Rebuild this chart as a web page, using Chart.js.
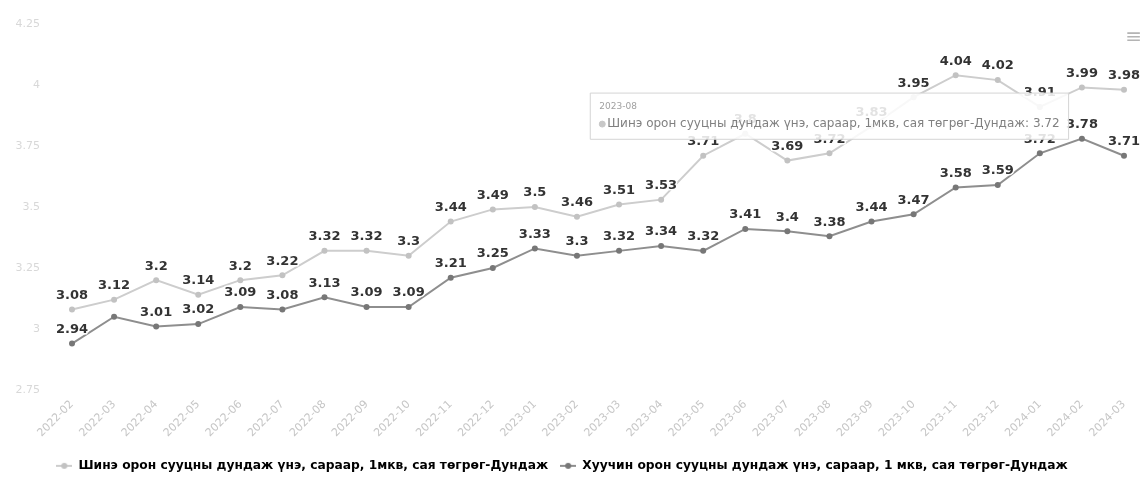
<!DOCTYPE html>
<html>
<head>
<meta charset="utf-8">
<title>Орон сууцны дундаж үнэ</title>
<script src="https://cdn.jsdelivr.net/npm/chart.js@4.4.1/dist/chart.umd.min.js"></script>
<style>
  html, body { margin: 0; padding: 0; background: #fff; }
  #wrap { position: relative; width: 1147px; height: 496px; }
  #menu { position: absolute; right: 5px; top: 24px; font: 20px "DejaVu Sans"; color: #b4b4b4; }
</style>
</head>
<body>
<div id="wrap">
  <canvas id="priceChart" width="1147" height="496"></canvas>
  <div id="menu">≡</div>
</div>
<script>
const months = [
  '2022-02', '2022-03', '2022-04', '2022-05', '2022-06', '2022-07', '2022-08',
  '2022-09', '2022-10', '2022-11', '2022-12', '2023-01', '2023-02', '2023-03',
  '2023-04', '2023-05', '2023-06', '2023-07', '2023-08', '2023-09', '2023-10',
  '2023-11', '2023-12', '2024-01', '2024-02', '2024-03'
];

// сая төгрөг / 1 мкв
const newFlats = [
  3.08, 3.12, 3.2, 3.14, 3.2, 3.22, 3.32, 3.32, 3.3, 3.44, 3.49, 3.5, 3.46,
  3.51, 3.53, 3.71, 3.8, 3.69, 3.72, 3.83, 3.95, 4.04, 4.02, 3.91, 3.99, 3.98
];
const oldFlats = [
  2.94, 3.05, 3.01, 3.02, 3.09, 3.08, 3.13, 3.09, 3.09, 3.21, 3.25, 3.33, 3.3,
  3.32, 3.34, 3.32, 3.41, 3.4, 3.38, 3.44, 3.47, 3.58, 3.59, 3.72, 3.78, 3.71
];

const yTicks = [2.75, 3, 3.25, 3.5, 3.75, 4, 4.25];

const newLabel = 'Шинэ орон сууцны дундаж үнэ, сараар, 1мкв, сая төгрөг-Дундаж';
const oldLabel = 'Хуучин орон сууцны дундаж үнэ, сараар, 1 мкв, сая төгрөг-Дундаж';

// month shown in the open tooltip
const pinnedMonth = '2023-08';

const FONT = '"DejaVu Sans", Arial, sans-serif';

// line + dot icon for the legend
function legendIcon(line, dot) {
  const c = document.createElement('canvas');
  c.width = 16; c.height = 10;
  const g = c.getContext('2d');
  g.strokeStyle = line;
  g.lineWidth = 2;
  g.beginPath(); g.moveTo(0, 5); g.lineTo(16, 5); g.stroke();
  g.fillStyle = dot;
  g.beginPath(); g.arc(8, 5, 3, 0, Math.PI * 2); g.fill();
  return c;
}

// value over each point, white halo under the text
const valueLabels = {
  id: 'valueLabels',
  afterDatasetsDraw(chart) {
    const ctx = chart.ctx;
    ctx.save();
    ctx.font = 'bold 13px ' + FONT;
    ctx.textAlign = 'center';
    ctx.textBaseline = 'middle';
    ctx.lineJoin = 'round';
    ctx.lineWidth = 3;
    ctx.strokeStyle = '#fff';
    ctx.fillStyle = '#333';
    chart.data.datasets.forEach((ds, i) => {
      chart.getDatasetMeta(i).data.forEach((pt, j) => {
        if (ds.skipLabels && ds.skipLabels.includes(j)) return;
        const txt = String(ds.data[j]);
        ctx.strokeText(txt, pt.x, pt.y - 14);
        ctx.fillText(txt, pt.x, pt.y - 14);
      });
    });
    ctx.restore();
  }
};

Chart.Tooltip.positioners.above = function (items) {
  if (!items.length) return false;
  return { x: items[0].element.x, y: items[0].element.y };
};

const chart = new Chart(document.getElementById('priceChart'), {
  type: 'line',
  data: {
    labels: months,
    datasets: [
      {
        label: newLabel,
        data: newFlats,
        borderColor: '#cdcdcd',
        backgroundColor: '#c2c2c2',
        borderWidth: 2,
        pointRadius: 3,
        pointBorderWidth: 0,
        tension: 0,
        icon: legendIcon('#cdcdcd', '#c2c2c2')
      },
      {
        label: oldLabel,
        data: oldFlats,
        borderColor: '#8e8e8e',
        backgroundColor: '#777',
        borderWidth: 2,
        pointRadius: 3,
        pointBorderWidth: 0,
        tension: 0,
        skipLabels: [1], // crowded against the first new-flat labels
        icon: legendIcon('#8e8e8e', '#777')
      }
    ]
  },
  options: {
    responsive: false,
    animation: false,
    events: [],
    layout: { padding: { left: 0, right: 23, top: 24, bottom: 14 } },
    scales: {
      x: {
        offset: false,
        grid: { display: false, drawTicks: false },
        border: { display: false },
        ticks: {
          minRotation: 45,
          maxRotation: 45,
          autoSkip: false,
          padding: 8,
          color: '#c6c6c6',
          font: { family: FONT, size: 11 }
        }
      },
      y: {
        min: 2.75,
        max: 4.25,
        grid: { display: false, drawTicks: false },
        border: { display: false },
        afterBuildTicks: s => { s.ticks = yTicks.map(v => ({ value: v })); },
        // fixed gutter; the wide label padding must not push the plot down
        afterFit: s => { s.width = 72; s.paddingTop = 7; s.paddingBottom = 7; },
        ticks: {
          padding: 32,
          color: '#d8d8d8',
          font: { family: FONT, size: 11 },
          callback: v => String(v)
        }
      }
    },
    plugins: {
      legend: {
        position: 'bottom',
        labels: {
          usePointStyle: true,
          pointStyleWidth: 16,
          padding: 12,
          color: '#484848',
          font: { family: FONT, size: 12.25, weight: 'bold' },
          generateLabels: ch => ch.data.datasets.map((ds, i) => ({
            text: ds.label,
            pointStyle: ds.icon,
            fillStyle: ds.borderColor,
            strokeStyle: ds.borderColor,
            lineWidth: 0,
            hidden: false,
            datasetIndex: i
          }))
        }
      },
      tooltip: {
        position: 'above',
        xAlign: 'center',
        yAlign: 'bottom',
        caretSize: 0,
        caretPadding: 14,
        cornerRadius: 0,
        backgroundColor: 'rgba(255,255,255,0.86)',
        borderColor: '#d4d4d4',
        borderWidth: 1,
        padding: { x: 9, y: 8 },
        titleColor: '#a0a0a0',
        titleFont: { family: FONT, size: 9, weight: 'normal' },
        titleMarginBottom: 5,
        bodyColor: '#808080',
        bodyFont: { family: FONT, size: 12 },
        usePointStyle: true,
        boxWidth: 6,
        boxHeight: 6,
        callbacks: {
          title: items => months[items[0].dataIndex],
          label: c => c.dataset.label + ': ' + c.parsed.y,
          labelColor: () => ({ borderColor: '#c8c8c8', backgroundColor: '#c8c8c8' }),
          labelPointStyle: () => ({ pointStyle: 'circle', rotation: 0 })
        }
      }
    }
  },
  plugins: [valueLabels]
});

chart.tooltip.setActiveElements(
  [{ datasetIndex: 0, index: months.indexOf(pinnedMonth) }],
  { x: 0, y: 0 }
);
chart.update();
</script>
</body>
</html>
